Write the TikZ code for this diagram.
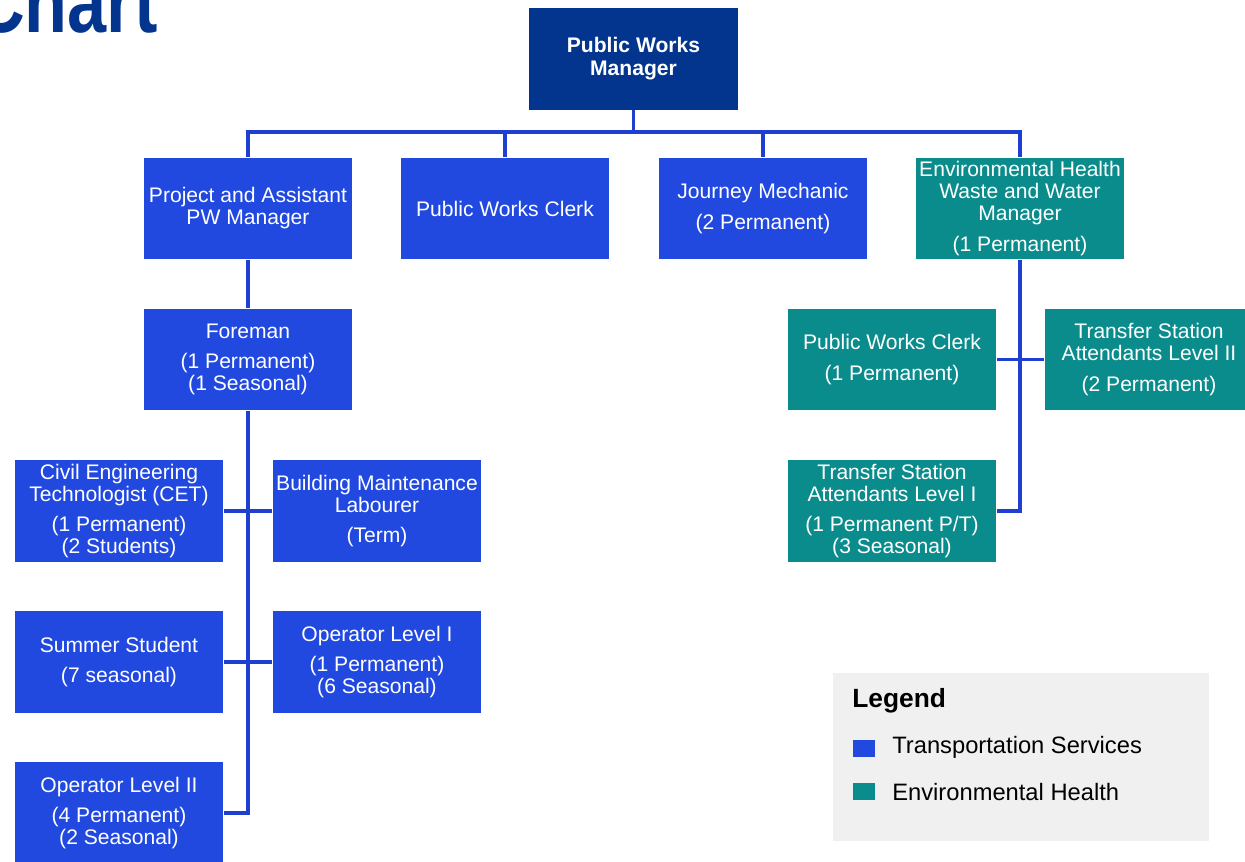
\documentclass[tikz,border=0pt]{standalone}
\usepackage{fontspec}
\setmainfont{Liberation Sans}
\definecolor{mgrblue}{HTML}{03358F}
\definecolor{tsblue}{HTML}{2149E0}
\definecolor{ehteal}{HTML}{0B8C8C}
\definecolor{lineblue}{HTML}{1E3FD0}
\definecolor{legendgray}{HTML}{F0F0F0}

\begin{document}
\begin{tikzpicture}[x=0.02cm, y=-0.02cm,
  box/.style={fill=tsblue, text=white, minimum width=4.18cm, minimum height=2.04cm,
    inner sep=0pt, align=center, font=\fontsize{12}{12.5}\selectfont},
  envbox/.style={box, fill=ehteal},
  link/.style={draw=lineblue, line width=1.9pt}]
  \useasboundingbox (0,0) rectangle (1245,862);
  \clip (0,0) rectangle (1245,862);

  \node[anchor=base east, inner sep=0pt, text=mgrblue,
    font=\fontsize{50}{50}\selectfont\bfseries] (chart) at (158,32) {\scalebox{0.8}[1]{Chart}};

  \node[box, fill=mgrblue, font=\fontsize{12}{13}\selectfont\bfseries] (pwm) at (633.5,59) {Public Works\\Manager};

  \node[box]    (pam)   at (248,208.5)  {Project and Assistant\\PW Manager};
  \node[box]    (clerk) at (505,208.5)  {Public Works Clerk};
  \node[box]    (mech)  at (763,208.5)  {Journey Mechanic\\[5pt](2 Permanent)};
  \node[envbox] (ehm)   at (1020,208.5) {Environmental Health\\Waste and Water\\Manager\\[5pt](1 Permanent)};

  \node[box] (fore)   at (248,359.5) {Foreman\\[5pt](1 Permanent)\\(1 Seasonal)};
  \node[box] (cet)    at (119,511)   {Civil Engineering\\Technologist (CET)\\[5pt](1 Permanent)\\(2 Students)};
  \node[box] (bml)    at (377,511)   {Building Maintenance\\Labourer\\[5pt](Term)};
  \node[box] (summer) at (119,662)   {Summer Student\\[5pt](7 seasonal)};
  \node[box] (op1)    at (377,662)   {Operator Level I\\[5pt](1 Permanent)\\(6 Seasonal)};
  \node[box] (op2)    at (119,813)   {Operator Level II\\[5pt](4 Permanent)\\(2 Seasonal)};

  \node[envbox] (ehclerk) at (892,359.5)  {Public Works Clerk\\[5pt](1 Permanent)};
  \node[envbox] (tsa2)    at (1149,359.5) {Transfer Station\\Attendants Level II\\[5pt](2 Permanent)};
  \node[envbox] (tsa1)    at (892,511)    {Transfer Station\\Attendants Level I\\[5pt](1 Permanent P/T)\\(3 Seasonal)};

  \coordinate (bus) at (633.5,132);
  \draw[link] (pwm.south) -- (bus);
  \draw[link] (pam.north) |- (bus) -| (ehm.north);
  \draw[link] (clerk.north) -- (clerk.north |- bus);
  \draw[link] (mech.north) -- (mech.north |- bus);

  \draw[link] (pam) -- (fore);
  \draw[link] (fore.south) |- (op2.east);
  \draw[link] (cet.east) -- (bml.west);
  \draw[link] (summer.east) -- (op1.west);

  \draw[link] (ehm.south) |- (tsa1.east);
  \draw[link] (ehclerk.east) -- (tsa2.west);

  \node[fill=legendgray, minimum width=7.52cm, minimum height=3.36cm, inner sep=0pt] (legend) at (1021,757) {};
  \node[anchor=west, inner sep=0pt, font=\fontsize{15}{15}\selectfont\bfseries] (legtitle) at (852,701) {Legend};
  \node[fill=tsblue, minimum width=0.44cm, minimum height=0.34cm, inner sep=0pt] (keyts) at (864,748.5) {};
  \node[fill=ehteal, minimum width=0.44cm, minimum height=0.34cm, inner sep=0pt] (keyeh) at (864,791.5) {};
  \node[anchor=west, inner sep=0pt, font=\fontsize{13.5}{13.5}\selectfont] (legts) at (892,747) {Transportation Services};
  \node[anchor=west, inner sep=0pt, font=\fontsize{13.5}{13.5}\selectfont] (legeh) at (892,792) {Environmental Health};
\end{tikzpicture}
\end{document}
